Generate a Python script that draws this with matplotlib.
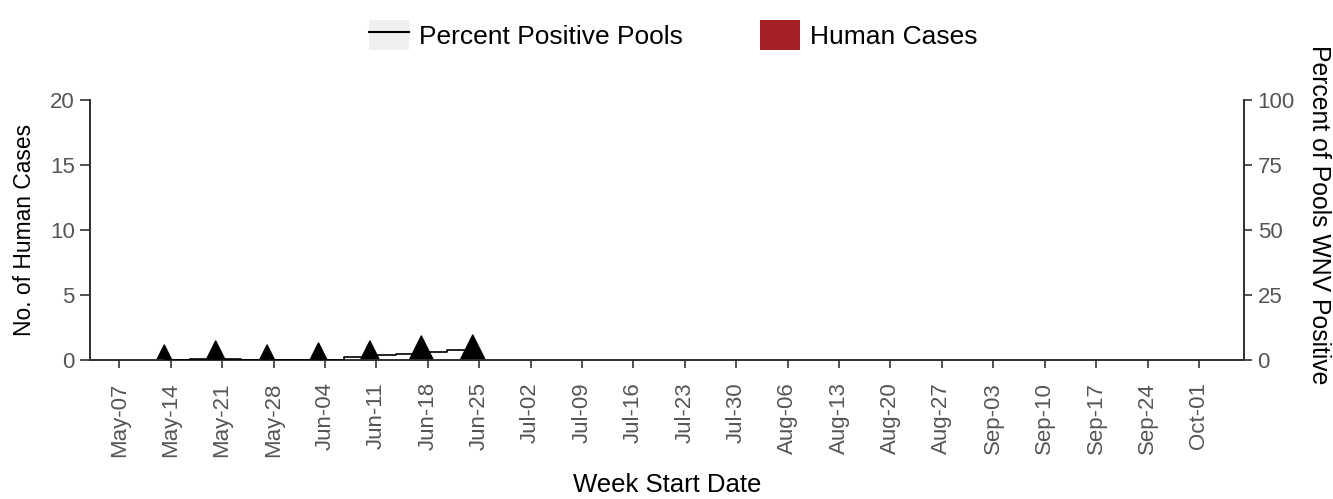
import matplotlib
matplotlib.use("Agg")
import matplotlib.pyplot as plt
from matplotlib.lines import Line2D
from matplotlib.patches import Patch
from matplotlib.path import Path
from matplotlib.legend_handler import HandlerTuple

plt.rcParams['font.family'] = ['Liberation Sans', 'DejaVu Sans']
plt.rcParams['font.size'] = 16

# week start labels
weeks = ['May-07', 'May-14', 'May-21', 'May-28', 'Jun-04', 'Jun-11', 'Jun-18',
         'Jun-25', 'Jul-02', 'Jul-09', 'Jul-16', 'Jul-23', 'Jul-30', 'Aug-06',
         'Aug-13', 'Aug-20', 'Aug-27', 'Sep-03', 'Sep-10', 'Sep-17', 'Sep-24',
         'Oct-01']

# human cases per week (none reported)
human_cases = [0, 0, 0, 0, 0, 0, 0, 0, 0, 0, 0, 0, 0, 0, 0, 0, 0, 0, 0, 0, 0, 0]

# weeks with mosquito pool sampling and number of pools tested
sample_weeks = [0, 1, 2, 3, 4, 5, 6]
pools_tested = [15, 19, 15, 17, 19, 24, 25]

# percent positive pools, half-week steps starting at first sample
pct_positive = [0, 0.5, 0.5, 0, 0, 0, 0, 1.0, 1.8, 2.4, 3.2, 4.0, 4.0]

spine_col = '#333333'
tick_col = '#555555'
red = '#a52126'

fig = plt.figure(figsize=(13.33, 4.99), dpi=100)
ax = fig.add_axes([0.0675, 0.2786, 0.8655, 0.521])
ax2 = ax.twinx()

x = list(range(len(weeks)))
ax.bar(x, human_cases, width=0.6, color=red)

# percent positive pools as a step line
offset = 0.875
pct_x = [offset + 0.5 * k for k in range(len(pct_positive))]
ax2.step(pct_x, pct_positive, where='post', color='black', lw=1.2, zorder=3)

# sampling markers: triangles sitting on the baseline
tri = Path([(-0.5, 0), (0.5, 0), (0, 1), (-0.5, 0)],
           [Path.MOVETO, Path.LINETO, Path.LINETO, Path.CLOSEPOLY])
tri_x = [w + offset for w in sample_weeks]
sizes = [(p * 0.72 * 2) ** 2 for p in pools_tested]
ax.scatter(tri_x, [0] * len(tri_x), s=sizes, marker=tri, color='black',
           zorder=4, clip_on=False)

ax.set_xlim(-0.57, 21.87)
ax.set_ylim(0, 20)
ax2.set_ylim(0, 100)
ax.set_yticks([0, 5, 10, 15, 20])
ax2.set_yticks([0, 25, 50, 75, 100])
ax.set_xticks(x)
ax.set_xticklabels(weeks, rotation=90)

for a in (ax, ax2):
    a.spines['top'].set_visible(False)
    for s in ('left', 'right', 'bottom'):
        a.spines[s].set_color(spine_col)
        a.spines[s].set_linewidth(1.3)
    a.tick_params(colors=spine_col, labelcolor=tick_col, labelsize=16,
                  width=1.2)
ax.tick_params(axis='y', length=7, pad=4)
ax.tick_params(axis='x', length=6, pad=10)
ax2.tick_params(axis='y', length=6, pad=4)

ax.set_xlabel('Week Start Date', fontsize=18.5, labelpad=12)
ax.set_ylabel('No. of Human Cases', fontsize=16.4, labelpad=10)
ax2.set_ylabel('Percent of Pools WNV Positive', fontsize=17.8, rotation=270,
               va='center', ha='center')
ax2.yaxis.set_label_coords(1.0655, 0.558)

h_line = (Patch(facecolor='#f0f0f0', edgecolor='none'),
          Line2D([], [], color='black', lw=1.5))
h_case = Patch(facecolor=red, edgecolor='none')
fig.legend([h_line, h_case], ['Percent Positive Pools', 'Human Cases'],
           handler_map={tuple: HandlerTuple(ndivide=1, pad=0)},
           loc='center', bbox_to_anchor=(0.505, 0.93), ncol=2, frameon=False,
           handlelength=1.5, handleheight=1.36, handletextpad=0.38,
           columnspacing=2.95, fontsize=19)

fig.savefig('out.png', dpi=100)
